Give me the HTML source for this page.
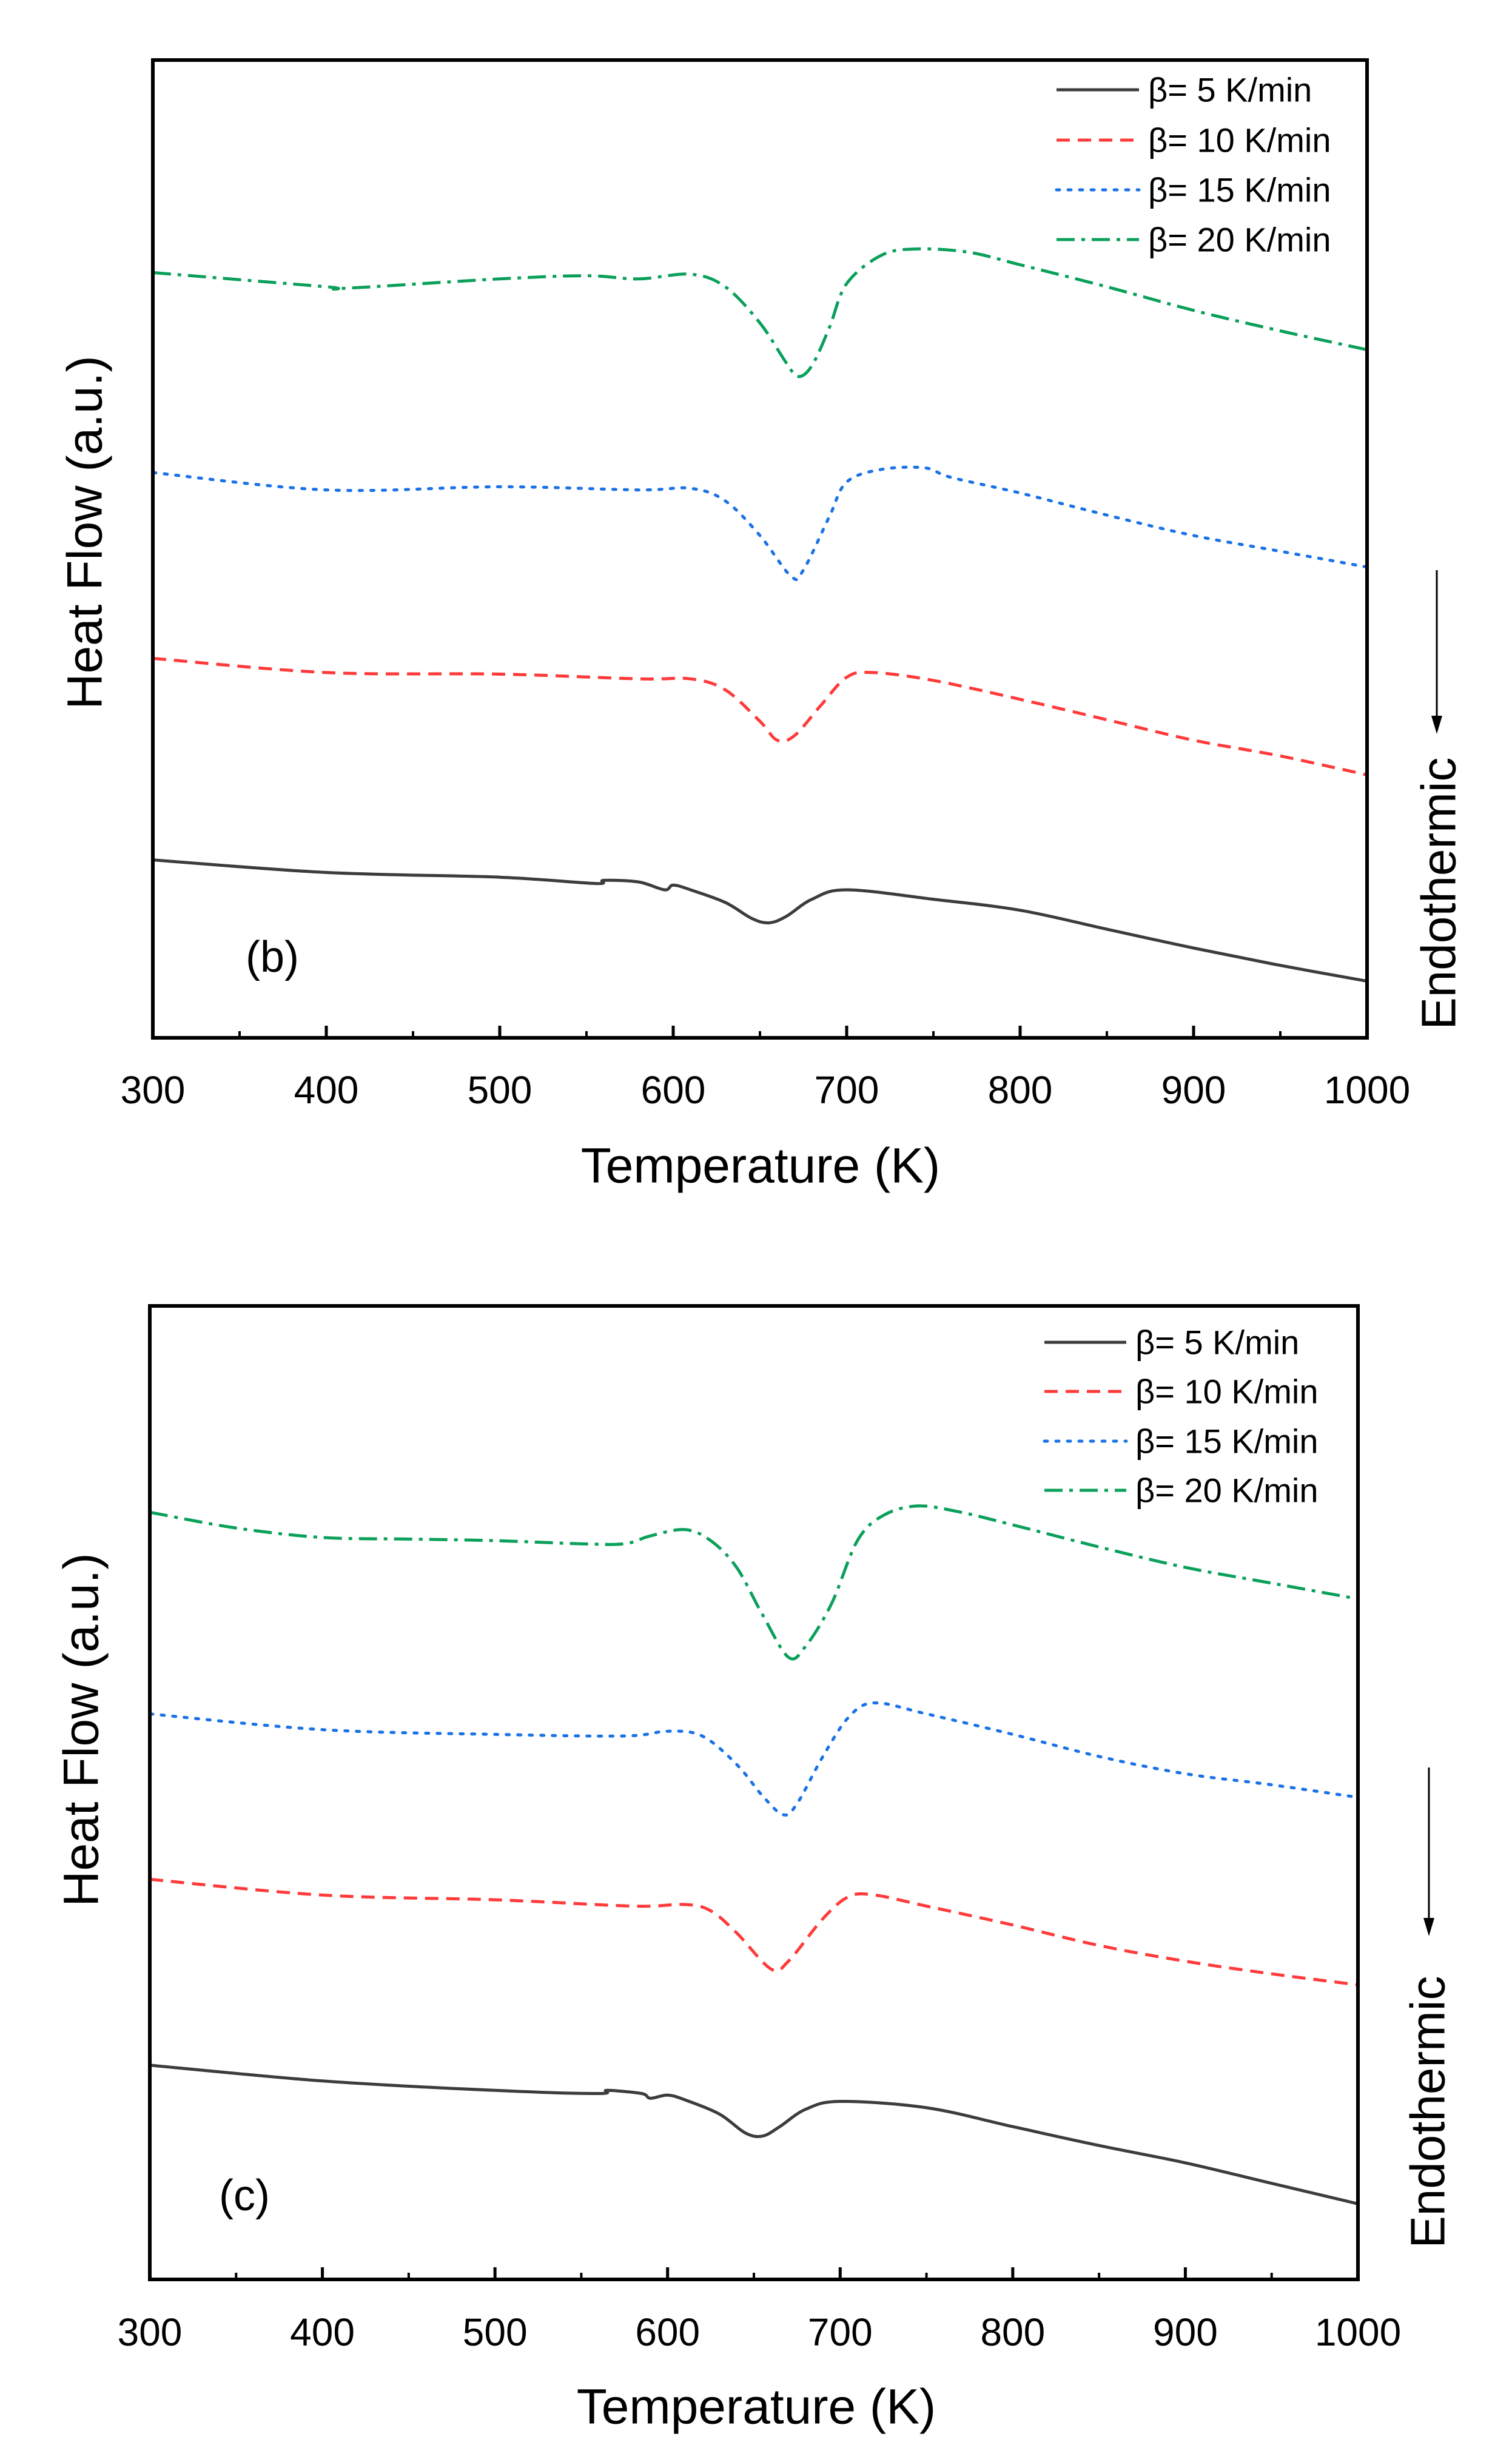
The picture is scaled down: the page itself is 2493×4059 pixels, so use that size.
<!DOCTYPE html>
<html><head><meta charset="utf-8">
<style>
html,body{margin:0;padding:0;background:#fff;}
svg{display:block;font-family:"Liberation Sans",Arial,sans-serif;}
</style></head>
<body>
<svg id="fig" width="2493" height="4059" viewBox="0 0 2493 4059" xmlns="http://www.w3.org/2000/svg"></svg>
<script>
// ---- data: panel (b) ----
const tempsB_5 = [300,400,500,555,560,580,595,600,610,630,645,655,665,680,700,750,800,850,900,950,1000];
const flowB_5 = [113,105,102,98,100,99,94,97,94,86,76,73,77,88,94,88,81,69,57,46,36];
const tempsB_10 = [300,400,500,580,610,630,650,660,670,685,700,715,750,800,850,900,950,1000];
const flowB_10 = [241,232,231,228,228,221,201,189,192,211,229,232,227,215,202,189,179,167];
const tempsB_15 = [300,400,500,580,610,630,650,668,675,690,700,720,745,760,800,850,900,950,1000];
const flowB_15 = [359,348,350,348,349,341,319,293,297,331,353,361,362,356,346,332,319,309,299];
const tempsB_20 = [300,400,410,500,550,580,610,630,650,665,672,680,690,700,720,740,770,800,850,900,950,1000];
const flowB_20 = [486,477,476,482,484,482,485,477,454,429,420,427,451,479,497,501,499,491,477,462,449,437];
// ---- data: panel (c) ----
const tempsC_5 = [300,400,500,560,565,585,590,600,610,630,645,655,665,680,700,750,800,850,900,950,1000];
const flowC_5 = [136,126,120,118,120,118,115,117,114,105,93,91,97,108,113,109,97,85,74,61,48];
const tempsC_10 = [300,400,500,580,610,625,640,660,670,690,705,720,750,800,850,900,950,1000];
const flowC_10 = [254,244,241,237,238,234,220,197,202,229,243,244,237,225,212,202,194,187];
const tempsC_15 = [300,400,500,575,600,620,640,655,667,675,690,705,720,750,800,850,900,950,1000];
const flowC_15 = [359,349,346,345,348,345,327,307,295,302,332,357,366,359,346,332,321,314,306];
const tempsC_20 = [300,350,400,450,500,550,575,590,610,625,640,655,670,680,695,710,725,745,770,800,850,900,950,1000];
const flowC_20 = [487,477,471,470,469,467,467,472,476,469,452,422,395,402,429,469,485,491,487,479,465,452,442,432];
const xTicks = [300,400,500,600,700,800,900,1000];
const xMinor = [350,450,550,650,750,850,950];
const legendLabels = ["β= 5 K/min","β= 10 K/min","β= 15 K/min","β= 20 K/min"];

const NS="http://www.w3.org/2000/svg";
const svg=document.getElementById('fig');
function mk(tag,attrs,parent){const e=document.createElementNS(NS,tag);for(const k in attrs)e.setAttribute(k,attrs[k]);(parent||svg).appendChild(e);return e;}

const styles=[
 {color:"#3c3c3c",dash:"",cap:"butt",name:"5"},
 {color:"#ff3a3a",dash:"22,13",cap:"butt",name:"10"},
 {color:"#1a72e6",dash:"5,14",cap:"round",name:"15"},
 {color:"#0aa05a",dash:"30,11,6,11",cap:"butt",name:"20"}
];

function smoothPath(pts){
  let d='M'+pts[0][0].toFixed(1)+','+pts[0][1].toFixed(1);
  for(let i=0;i<pts.length-1;i++){
    const p0=pts[Math.max(0,i-1)],p1=pts[i],p2=pts[i+1],p3=pts[Math.min(pts.length-1,i+2)];
    const k=1/6;
    const c1x=p1[0]+(p2[0]-p0[0])*k, c1y=p1[1]+(p2[1]-p0[1])*k;
    const c2x=p2[0]-(p3[0]-p1[0])*k, c2y=p2[1]-(p3[1]-p1[1])*k;
    d+=`C${c1x.toFixed(1)},${c1y.toFixed(1)} ${c2x.toFixed(1)},${c2y.toFixed(1)} ${p2[0].toFixed(1)},${p2[1].toFixed(1)}`;
  }
  return d;
}

function panel(p){
  const g=mk('g',{});
  
  
  const xs=t=>p.L+(t-300)/700*(p.R-p.L);
  const ys=v=>p.B-v/p.ymax*(p.B-p.T);
  p.series.forEach((s,i)=>{
    const st=styles[i];
    const pts=s.t.map((t,j)=>[xs(t),ys(s.v[j])]);
    const path=mk('path',{d:smoothPath(pts),fill:'none',stroke:st.color,'stroke-width':5,'stroke-dasharray':st.dash,'stroke-linecap':st.cap,'stroke-linejoin':'round'},g);
    
    
  });
  const fr=mk('rect',{x:p.L,y:p.T,width:p.R-p.L,height:p.B-p.T,fill:'none',stroke:'#000','stroke-width':6},g);
  
  
  xTicks.forEach(t=>{
    const l=mk('line',{x1:xs(t),x2:xs(t),y1:p.B,y2:p.B-20,stroke:'#000','stroke-width':5},g);
    
    
    const tx=mk('text',{x:xs(t),y:p.tickY,'font-size':64,'text-anchor':'middle','dominant-baseline':'central',fill:'#000'},g);
    tx.textContent=t;
    
    
  });
  xMinor.forEach(t=>{
    const l=mk('line',{x1:xs(t),x2:xs(t),y1:p.B,y2:p.B-11,stroke:'#000','stroke-width':4},g);
    
    
  });
  const xt=mk('text',{x:p.xtX,y:p.xtY,'font-size':82,'text-anchor':'middle','dominant-baseline':'central',fill:'#000'},g);
  xt.textContent='Temperature (K)';
  
  
  const yt=mk('text',{x:0,y:0,'font-size':82,'text-anchor':'middle','dominant-baseline':'central',fill:'#000',transform:`translate(${p.ytX},${p.ytY}) rotate(-90)`},g);
  yt.textContent='Heat Flow (a.u.)';
  
  
  const pl=mk('text',{x:p.lblX,y:p.lblY,'font-size':72,'text-anchor':'middle','dominant-baseline':'central',fill:'#000'},g);
  pl.textContent='('+p.id+')';
  
  
  const en=mk('text',{x:0,y:0,'font-size':80,'text-anchor':'middle','dominant-baseline':'central',fill:'#000',transform:`translate(${p.enX},${p.enY}) rotate(-90)`},g);
  en.textContent='Endothermic';
  
  
  const ar=mk('line',{x1:p.arX,x2:p.arX,y1:p.arY1,y2:p.arY2-24,stroke:'#000','stroke-width':3},g);
  
  
  const ah=mk('polygon',{points:`${p.arX-9},${p.arY2-30} ${p.arX+9},${p.arY2-30} ${p.arX},${p.arY2}`,fill:'#000'},g);
  
  
  legendLabels.forEach((lab,i)=>{
    const st=styles[i];
    const y=p.legY[i];
    const ll=mk('line',{x1:p.legX1,x2:p.legX2,y1:y,y2:y,stroke:st.color,'stroke-width':5,'stroke-dasharray':st.dash,'stroke-linecap':st.cap},g);
    
    
    const lt=mk('text',{x:p.legTX,y:y,'font-size':56,'dominant-baseline':'central',fill:'#000'},g);
    lt.textContent=lab;
    
    
  });
}

panel({id:'b',L:252,R:2254,T:99,B:1711,ymax:621,tickY:1797,xtX:1254,xtY:1922,ytX:140,ytY:878,
  lblX:449,lblY:1578,enX:2372,enY:1473,arX:2369,arY1:940,arY2:1210,
  legX1:1742,legX2:1878,legTX:1893,legY:[148,231,313,395],
  series:[{t:tempsB_5,v:flowB_5},{t:tempsB_10,v:flowB_10},{t:tempsB_15,v:flowB_15},{t:tempsB_20,v:flowB_20}]});
panel({id:'c',L:247,R:2239,T:2153,B:3758,ymax:618,tickY:3845,xtX:1247,xtY:3968,ytX:134,ytY:2852,
  lblX:403,lblY:3620,enX:2354,enY:3482,arX:2356,arY1:2914,arY2:3192,
  legX1:1722,legX2:1857,legTX:1872,legY:[2213,2294,2376,2457],
  series:[{t:tempsC_5,v:flowC_5},{t:tempsC_10,v:flowC_10},{t:tempsC_15,v:flowC_15},{t:tempsC_20,v:flowC_20}]});
</script>
</body></html>
